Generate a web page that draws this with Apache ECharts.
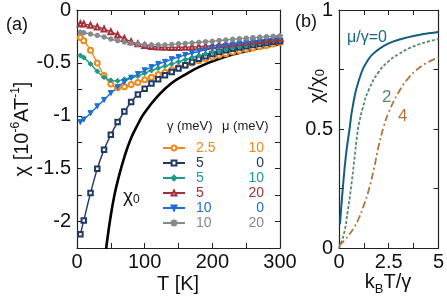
<!DOCTYPE html>
<html><head><meta charset="utf-8">
<script src="https://cdn.jsdelivr.net/npm/echarts@6/dist/echarts.min.js"></script>
<style>html,body{margin:0;padding:0;background:#fff}#c{width:447px;height:300px}</style>
</head><body><div id="c"></div>
<script>
// ---- Panel (a) data ----
const temps = [5,10,20,30,40,50,60,70,80,90,100,110,120,130,140,150,160,170,180,190,200,210,220,230,240,250,260,270,280,290,300];
const gammaVals = ['2.5','5','5','5','10','10'];
const muVals = ['10','0','10','20','0','20'];
const orangeVals = [-0.26,-0.29,-0.38,-0.50,-0.62,-0.70,-0.735,-0.725,-0.705,-0.685,-0.66,-0.635,-0.61,-0.588,-0.565,-0.543,-0.522,-0.50,-0.48,-0.462,-0.444,-0.428,-0.413,-0.398,-0.385,-0.372,-0.36,-0.348,-0.336,-0.322,-0.308];
const navyVals = [-2.12,-1.99,-1.73,-1.50,-1.32,-1.18,-1.06,-0.96,-0.87,-0.80,-0.745,-0.695,-0.655,-0.618,-0.585,-0.553,-0.522,-0.492,-0.462,-0.437,-0.415,-0.397,-0.381,-0.367,-0.354,-0.342,-0.331,-0.321,-0.311,-0.301,-0.292];
const tealVals = [-0.43,-0.45,-0.51,-0.58,-0.635,-0.665,-0.67,-0.655,-0.64,-0.625,-0.598,-0.572,-0.55,-0.53,-0.51,-0.49,-0.47,-0.45,-0.432,-0.416,-0.40,-0.386,-0.373,-0.36,-0.348,-0.336,-0.325,-0.314,-0.303,-0.293,-0.283];
const redVals = [-0.13,-0.133,-0.145,-0.16,-0.18,-0.205,-0.236,-0.27,-0.30,-0.32,-0.335,-0.345,-0.35,-0.353,-0.354,-0.354,-0.352,-0.35,-0.347,-0.343,-0.338,-0.332,-0.325,-0.318,-0.31,-0.303,-0.296,-0.289,-0.282,-0.275,-0.268];
const blueVals = [-1.06,-1.035,-0.975,-0.91,-0.85,-0.785,-0.73,-0.68,-0.64,-0.605,-0.57,-0.54,-0.51,-0.49,-0.465,-0.445,-0.425,-0.408,-0.392,-0.377,-0.363,-0.35,-0.338,-0.327,-0.316,-0.305,-0.295,-0.286,-0.278,-0.27,-0.262];
const grayVals = [-0.21,-0.215,-0.228,-0.24,-0.255,-0.275,-0.29,-0.303,-0.315,-0.322,-0.327,-0.33,-0.33,-0.33,-0.325,-0.32,-0.316,-0.311,-0.306,-0.30,-0.295,-0.289,-0.283,-0.277,-0.271,-0.266,-0.261,-0.256,-0.252,-0.248,-0.244];
const chi0Temps = [43,45,50,55,60,70,80,90,100,120,140,160,180,200,225,250,275,300];
const chi0Vals = [-2.26,-2.16,-1.94,-1.76,-1.62,-1.39,-1.21,-1.08,-0.97,-0.81,-0.69,-0.61,-0.54,-0.485,-0.43,-0.39,-0.353,-0.323];
// ---- Panel (b) data ----
const b0x = [0.05,0.18,0.35,0.53,0.68,1.0,1.5,2.0,2.5,3.0,3.5,4.0,4.5,5.0];
const b0y = [0.10,0.24,0.39,0.50,0.59,0.705,0.795,0.835,0.86,0.875,0.886,0.895,0.902,0.908];
const b2x = [0.0,0.25,0.43,0.6,0.77,0.92,1.0,1.2,1.5,2.0,2.5,3.0,3.5,4.0,4.5,5.0];
const b2y = [0.0,0.06,0.15,0.25,0.37,0.48,0.52,0.59,0.665,0.74,0.785,0.815,0.838,0.855,0.868,0.878];
const b4x = [0.0,0.25,0.5,0.75,1.0,1.25,1.5,1.75,2.0,2.25,2.5,3.0,3.5,4.0,4.5,5.0];
const b4y = [0.01,0.03,0.055,0.085,0.125,0.18,0.245,0.33,0.43,0.51,0.57,0.655,0.715,0.755,0.782,0.80];

const FONT = 'Liberation Sans, Arial, sans-serif';
const AX = '#222';
const colors = ['#f0891c','#1f3a66','#20998a','#a3303a','#1d6fd3','#858a8c'];
const symbols = ['emptyCircle','emptyRect','diamond','emptyTriangle','triangle','circle'];
const symRot = [0,0,0,0,180,0];
const symSize = [5,4.5,5,5,5,4.5];
const seriesVals = [orangeVals,navyVals,tealVals,redVals,blueVals,grayVals];
const names = gammaVals.map((g,i)=>'g'+g+'m'+muVals[i]);

function zip(a,b){return a.map((v,i)=>[v,b[i]]);}
function onStep(step){return v=>{const r=v/step;return Math.abs(r-Math.round(r))<1e-6?String(+v.toFixed(3)):'';};}

function axisPair(gridIndex, type, min, max, interval, labelStep, showLabels, pos){
  return {
    type:'value', gridIndex, min, max, interval, position:pos,
    axisLine:{show:true,onZero:false,lineStyle:{color:AX,width:1.2}},
    axisTick:{show:true,inside:true,length:5,lineStyle:{color:AX,width:1}},
    splitLine:{show:false},
    axisLabel:{show:showLabels,formatter:onStep(labelStep),fontFamily:FONT,fontSize:20,color:'#111',margin:type==='x'?4:6}
  };
}

const series = [];
seriesVals.forEach((vals,i)=>{
  series.push({
    name:names[i], type:'line', xAxisIndex:0, yAxisIndex:0,
    data:zip(temps,vals), smooth:0.35,
    symbol:symbols[i], symbolSize:symSize[i], symbolRotate:symRot[i], showSymbol:true,
    lineStyle:{color:colors[i],width:1.4}, itemStyle:{color:colors[i],borderColor:colors[i],borderWidth:1},
    z:3, animation:false
  });
});
series.push({name:'chi0',type:'line',xAxisIndex:0,yAxisIndex:0,data:zip(chi0Temps,chi0Vals),smooth:true,showSymbol:false,lineStyle:{color:'#000',width:2.6},z:2,animation:false});
series.push({name:'b0',type:'line',xAxisIndex:2,yAxisIndex:2,data:zip(b0x,b0y),smooth:true,showSymbol:false,lineStyle:{color:'#135e7e',width:2},animation:false});
series.push({name:'b2',type:'line',xAxisIndex:2,yAxisIndex:2,data:zip(b2x,b2y),smooth:true,showSymbol:false,lineStyle:{color:'#4f8d6b',width:1.8,type:[3,2]},animation:false});
series.push({name:'b4',type:'line',xAxisIndex:2,yAxisIndex:2,data:zip(b4x,b4y),smooth:true,showSymbol:false,lineStyle:{color:'#b3743c',width:1.8,type:[7,3,2,3]},animation:false});

const chart = echarts.init(document.getElementById('c'),null,{renderer:'canvas'});
chart.setOption({
  animation:false,
  backgroundColor:'#fff',
  grid:[{left:77,top:10,width:203,height:238},{left:339,top:10,width:100,height:238}],
  xAxis:[
    axisPair(0,'x',0,300,50,100,true,'bottom'),
    axisPair(0,'x',0,300,50,100,false,'top'),
    axisPair(1,'x',0,5,1.25,2.5,true,'bottom'),
    axisPair(1,'x',0,5,1.25,2.5,false,'top')
  ],
  yAxis:[
    axisPair(0,'y',-2.25,0,0.25,0.5,true,'left'),
    axisPair(0,'y',-2.25,0,0.25,0.5,false,'right'),
    axisPair(1,'y',0,1,0.25,0.5,true,'left'),
    axisPair(1,'y',0,1,0.25,0.5,false,'right')
  ],
  legend:{
    left:157, top:136, orient:'vertical', itemWidth:22, itemHeight:6, itemGap:1, selectedMode:false,
    data:names.map((n,i)=>({name:n,textStyle:{color:colors[i]}})),
    formatter:n=>{const i=names.indexOf(n);return '{g|'+gammaVals[i]+'}{m|'+muVals[i]+'}';},
    textStyle:{fontFamily:FONT,fontSize:14,lineHeight:14,
      rich:{g:{width:38,padding:[0,0,0,6],fontSize:14,fontFamily:FONT,lineHeight:14},m:{width:30,align:'right',fontSize:14,fontFamily:FONT,lineHeight:14}}}
  },
  graphic:[
    {type:'text',left:6,top:16,style:{text:'(a)',font:'18px '+FONT,fill:'#111'}},
    {type:'text',left:295,top:13,style:{text:'(b)',font:'18px '+FONT,fill:'#111'}},
    {type:'text',x:21,y:129,rotation:Math.PI/2,style:{text:'{a|χ [10}{s|-6}{a|AT}{s|-1}{a|]}',align:'center',verticalAlign:'middle',
      rich:{a:{fontSize:20,fontFamily:FONT,fill:'#111',lineHeight:22,verticalAlign:'bottom'},s:{fontSize:12,fontFamily:FONT,fill:'#111',lineHeight:22,verticalAlign:'top'}}}},
    {type:'text',x:178,y:284,style:{text:'T [K]',font:'20px '+FONT,fill:'#111',align:'center',verticalAlign:'middle'}},
    {type:'text',x:123,y:196,style:{text:'{a|χ}{s|0}',verticalAlign:'middle',
      rich:{a:{fontSize:19,fontFamily:FONT,fill:'#111',lineHeight:20,verticalAlign:'bottom'},s:{fontSize:12,fontFamily:FONT,fill:'#111',lineHeight:20,verticalAlign:'bottom'}}}},
    {type:'text',x:167,y:126,style:{text:'γ (meV)',font:'13px '+FONT,fill:'#222',verticalAlign:'middle'}},
    {type:'text',x:222,y:126,style:{text:'μ (meV)',font:'13px '+FONT,fill:'#222',verticalAlign:'middle'}},
    {type:'text',x:316,y:86,rotation:Math.PI/2,style:{text:'{a|χ/χ}{s|0}',align:'center',verticalAlign:'middle',
      rich:{a:{fontSize:20,fontFamily:FONT,fill:'#111',lineHeight:22,verticalAlign:'bottom'},s:{fontSize:13,fontFamily:FONT,fill:'#111',lineHeight:22,verticalAlign:'bottom'}}}},
    {type:'text',x:388,y:284,style:{text:'{a|k}{s|B}{a|T/γ}',align:'center',verticalAlign:'middle',
      rich:{a:{fontSize:20,fontFamily:FONT,fill:'#111',lineHeight:24,verticalAlign:'top'},s:{fontSize:13,fontFamily:FONT,fill:'#111',lineHeight:24,verticalAlign:'bottom'}}}},
    {type:'text',x:347,y:38,style:{text:'μ/γ=0',font:'16px '+FONT,fill:'#1a6788',verticalAlign:'middle'}},
    {type:'text',x:382,y:97,style:{text:'2',font:'17px '+FONT,fill:'#4f8d6b',verticalAlign:'middle'}},
    {type:'text',x:398,y:116,style:{text:'4',font:'17px '+FONT,fill:'#b3743c',verticalAlign:'middle'}}
  ],
  series
});
</script></body></html>
